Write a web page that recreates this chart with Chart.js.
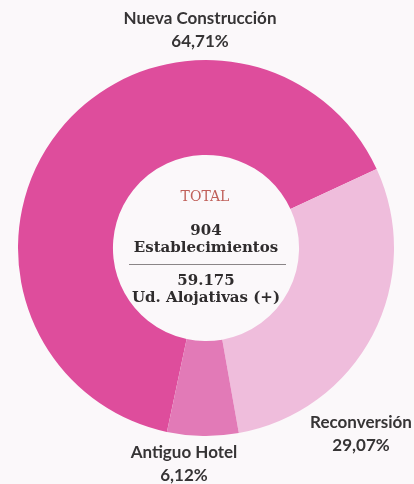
<!DOCTYPE html>
<html>
<head>
<meta charset="utf-8">
<script src="https://cdn.jsdelivr.net/npm/chart.js@4.4.0/dist/chart.umd.min.js"></script>
<style>
  html, body { margin: 0; padding: 0; background: #fbf8fa; }
  #wrap { width: 414px; height: 484px; position: relative; }
</style>
</head>
<body>
<div id="wrap"><canvas id="hotelChart" width="414" height="484"></canvas></div>
<script>
// Data
const categories = ["Nueva Construcción", "Reconversión", "Antiguo Hotel"];
const shares = [64.71, 29.07, 6.12];
const shareLabels = ["64,71%", "29,07%", "6,12%"];
const sliceColors = ["#de4d9c", "#efbddc", "#e27ab7"];

// Centre text
const totalTitle = "TOTAL";
const totalLines = [["904", "Establecimientos"], ["59.175", "Ud. Alojativas (+)"]];

// Where the outside labels sit (text centre, first line)
const labelAnchors = [
    { x: 200, y: 19 },
    { x: 361, y: 423 },
    { x: 184, y: 453 }
];

const outsideLabels = {
    id: 'outsideLabels',
    afterDraw(chart) {
        const ctx = chart.ctx;
        ctx.save();
        ctx.fillStyle = "#363435";
        ctx.textAlign = "center";
        ctx.textBaseline = "middle";
        ctx.font = "bold 17px Lato";
        categories.forEach((name, i) => {
            const a = labelAnchors[i];
            ctx.fillText(name, a.x, a.y);
            ctx.fillText(shareLabels[i], a.x, a.y + 23);
        });
        ctx.restore();
    }
};

const centerText = {
    id: 'centerText',
    afterDraw(chart) {
        const arc = chart.getDatasetMeta(0).data[0];
        if (!arc) return;
        const cx = arc.x, cy = arc.y;
        const ctx = chart.ctx;
        ctx.save();
        ctx.textAlign = "center";
        ctx.textBaseline = "middle";

        ctx.fillStyle = "#c0605a";
        ctx.font = "14px 'DejaVu Serif'";
        ctx.fillText(totalTitle, cx - 1, cy - 51);

        ctx.fillStyle = "#2f2c2d";
        ctx.font = "bold 15px 'DejaVu Serif'";
        ctx.fillText(totalLines[0][0], cx, cy - 17);
        ctx.fillText(totalLines[0][1], cx, cy);

        // divider
        ctx.strokeStyle = "#8a8587";
        ctx.lineWidth = 1;
        ctx.beginPath();
        ctx.moveTo(cx - 77, cy + 16.5);
        ctx.lineTo(cx + 80, cy + 16.5);
        ctx.stroke();

        ctx.fillText(totalLines[1][0], cx, cy + 33);
        ctx.fillText(totalLines[1][1], cx, cy + 50);
        ctx.restore();
    }
};

new Chart(document.getElementById("hotelChart").getContext('2d'), {
    type: 'doughnut',
    data: {
        labels: categories,
        datasets: [{
            data: shares,
            backgroundColor: sliceColors,
            borderWidth: 0
        }]
    },
    options: {
        responsive: false,
        animation: false,
        cutout: '49.5%',
        rotation: -168,
        layout: { padding: { left: 18, right: 20, top: 60, bottom: 48 } },
        plugins: {
            legend: { display: false },
            tooltip: { enabled: false }
        }
    },
    plugins: [outsideLabels, centerText]
});
</script>
</body>
</html>
